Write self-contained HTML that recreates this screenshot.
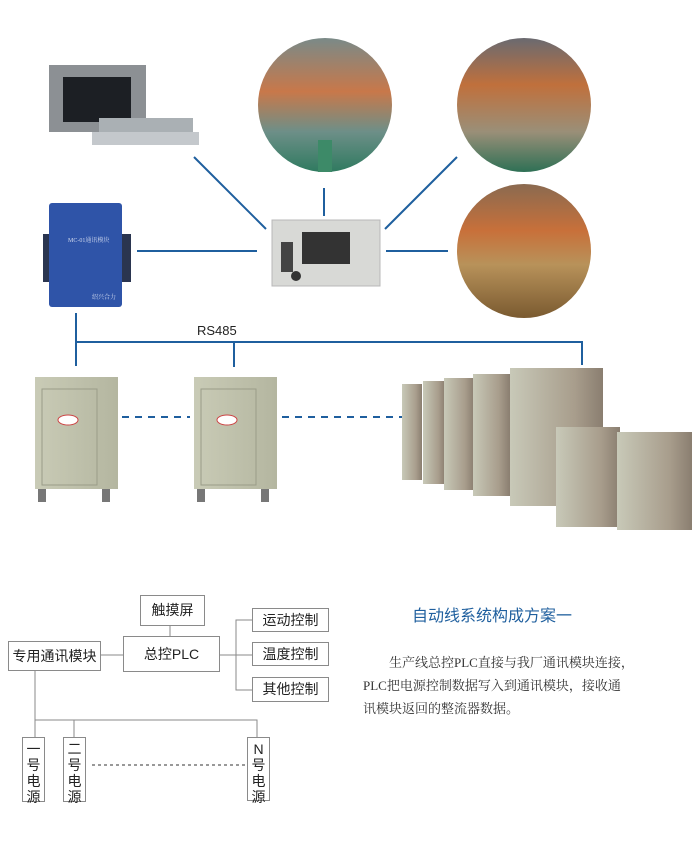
<!DOCTYPE html>
<html><head><meta charset="utf-8"><style>
body{margin:0;background:#fff;width:700px;height:863px;overflow:hidden;position:relative;font-family:"Liberation Sans","Noto Sans CJK SC",sans-serif}
.a{position:absolute}
.bx{position:absolute;border:1px solid #8a8a8a;background:#fff;font-size:14px;color:#222;text-align:center;box-sizing:border-box}
.vt{position:absolute;border:1px solid #8a8a8a;box-sizing:border-box;width:23px;font-size:14px;line-height:16px;text-align:center;padding-top:3px;color:#222}
.p{position:absolute;font-family:"Liberation Serif","Noto Serif CJK SC",serif;font-size:13px;color:#333;white-space:nowrap}
</style></head><body>
<svg class="a" style="left:0;top:0" width="700" height="863">
<defs>
<linearGradient id="f" x1="0" y1="0" x2="0" y2="1"><stop offset="0" stop-color="#7a8a88"/><stop offset=".4" stop-color="#c8784a"/><stop offset=".7" stop-color="#6d8f88"/><stop offset="1" stop-color="#2f7a60"/></linearGradient>
<linearGradient id="g" x1="0" y1="0" x2="0" y2="1"><stop offset="0" stop-color="#6a6a70"/><stop offset=".35" stop-color="#c0703c"/><stop offset=".7" stop-color="#9a8f78"/><stop offset="1" stop-color="#2e7055"/></linearGradient>
<linearGradient id="h" x1="0" y1="0" x2="0" y2="1"><stop offset="0" stop-color="#8a6a50"/><stop offset=".35" stop-color="#c8703a"/><stop offset=".6" stop-color="#b8925a"/><stop offset="1" stop-color="#7a5a30"/></linearGradient>
<linearGradient id="cab" x1="0" y1="0" x2="1" y2="0"><stop offset="0" stop-color="#c9cbb6"/><stop offset="1" stop-color="#b4b6a0"/></linearGradient>
<linearGradient id="br" x1="0" y1="0" x2="1" y2="0"><stop offset="0" stop-color="#c8c9b8"/><stop offset=".7" stop-color="#a89d8c"/><stop offset="1" stop-color="#8a7e70"/></linearGradient>
</defs>
<g stroke="#1f5f9e" stroke-width="2" fill="none">
<line x1="194" y1="157" x2="266" y2="229"/><line x1="324" y1="188" x2="324" y2="216"/><line x1="457" y1="157" x2="385" y2="229"/>
<line x1="137" y1="251" x2="257" y2="251"/><line x1="386" y1="251" x2="448" y2="251"/>
<polyline points="76,313 76,342 582,342 582,365"/><line x1="76" y1="342" x2="76" y2="366"/><line x1="234" y1="342" x2="234" y2="367"/>
<line x1="122" y1="417" x2="190" y2="417" stroke-dasharray="7,6"/><line x1="282" y1="417" x2="402" y2="417" stroke-dasharray="7,6"/>
</g>
<!-- touchscreen -->
<rect x="49" y="65" width="97" height="67" fill="#8c9094"/><rect x="63" y="77" width="68" height="45" fill="#1c1f24"/>
<rect x="99" y="118" width="94" height="15" fill="#aab0b4"/><rect x="92" y="132" width="107" height="13" fill="#c4c8cc"/>
<!-- circles -->
<ellipse cx="325" cy="105" rx="67" ry="67" fill="url(#f)"/><ellipse cx="524" cy="105" rx="67" ry="67" fill="url(#g)"/><ellipse cx="524" cy="251" rx="67" ry="67" fill="url(#h)"/>
<rect x="318" y="140" width="14" height="32" fill="#3d8a68"/>
<!-- MC module -->
<rect x="43" y="234" width="88" height="48" fill="#2a3550"/>
<rect x="49" y="203" width="73" height="104" rx="3" fill="#2f54a8"/>
<text x="68" y="242" font-size="6" fill="#cfd8ee" font-family="Liberation Serif,Noto Serif CJK SC,serif">MC-01通讯模块</text>
<text x="92" y="299" font-size="6" fill="#cfd8ee" font-family="Liberation Serif,Noto Serif CJK SC,serif">绍兴合力</text>
<!-- PLC -->
<rect x="272" y="220" width="108" height="66" fill="#d8d9d6" stroke="#b8b8b8"/>
<rect x="302" y="232" width="48" height="32" fill="#333"/>
<rect x="281" y="242" width="12" height="30" fill="#444"/><circle cx="296" cy="276" r="5" fill="#333"/>
<!-- cabinets left -->
<g><rect x="35" y="377" width="83" height="112" fill="url(#cab)"/><rect x="42" y="389" width="55" height="96" fill="none" stroke="#9a9c88"/><rect x="38" y="489" width="8" height="13" fill="#777"/><rect x="102" y="489" width="8" height="13" fill="#777"/><ellipse cx="68" cy="420" rx="10" ry="5" fill="#fff" stroke="#c44"/></g>
<g><rect x="194" y="377" width="83" height="112" fill="url(#cab)"/><rect x="201" y="389" width="55" height="96" fill="none" stroke="#9a9c88"/><rect x="197" y="489" width="8" height="13" fill="#777"/><rect x="261" y="489" width="8" height="13" fill="#777"/><ellipse cx="227" cy="420" rx="10" ry="5" fill="#fff" stroke="#c44"/></g>
<!-- right cabinets -->
<rect x="402" y="384" width="20" height="96" fill="url(#br)"/>
<rect x="423" y="381" width="22" height="103" fill="url(#br)"/>
<rect x="444" y="378" width="30" height="112" fill="url(#br)"/>
<rect x="473" y="374" width="37" height="122" fill="url(#br)"/>
<rect x="510" y="368" width="93" height="138" fill="url(#br)"/>
<rect x="556" y="427" width="64" height="100" fill="url(#br)"/>
<rect x="617" y="432" width="75" height="98" fill="url(#br)"/>
<!-- bottom diagram lines -->
<g stroke="#8a8a8a" stroke-width="1" fill="none">
<line x1="170" y1="626" x2="170" y2="636"/><line x1="100" y1="655" x2="123" y2="655"/><line x1="220" y1="655" x2="252" y2="655"/>
<polyline points="252,620 236,620 236,690 252,690"/>
<polyline points="35,671 35,737"/><polyline points="35,720 257,720 257,737"/><line x1="74" y1="720" x2="74" y2="737"/>
<line x1="92" y1="765" x2="245" y2="765" stroke="#333" stroke-dasharray="3,3"/>
</g>
</svg>
<div class="a" style="left:197px;top:323px;font-size:13px;color:#222">RS485</div>
<div class="bx" style="left:140px;top:595px;width:65px;height:31px;line-height:29px">触摸屏</div>
<div class="bx" style="left:123px;top:636px;width:97px;height:36px;line-height:34px">总控PLC</div>
<div class="bx" style="left:8px;top:641px;width:93px;height:30px;line-height:28px">专用通讯模块</div>
<div class="bx" style="left:252px;top:608px;width:77px;height:24px;line-height:22px">运动控制</div>
<div class="bx" style="left:252px;top:642px;width:77px;height:24px;line-height:22px">温度控制</div>
<div class="bx" style="left:252px;top:677px;width:77px;height:25px;line-height:23px">其他控制</div>
<div class="vt" style="left:22px;top:737px;height:65px">一<br>号<br>电<br>源</div>
<div class="vt" style="left:63px;top:737px;height:65px">二<br>号<br>电<br>源</div>
<div class="vt" style="left:247px;top:737px;height:64px">N<br>号<br>电<br>源</div>
<div class="a" style="left:412px;top:602px;font-size:16px;color:#1f5f9e;letter-spacing:0">自动线系统构成方案一</div>
<div class="p" style="left:389px;top:652px">生产线总控PLC直接与我厂通讯模块连接，</div>
<div class="p" style="left:363px;top:675px">PLC把电源控制数据写入到通讯模块，接收通</div>
<div class="p" style="left:363px;top:698px">讯模块返回的整流器数据。</div>
</body></html>
